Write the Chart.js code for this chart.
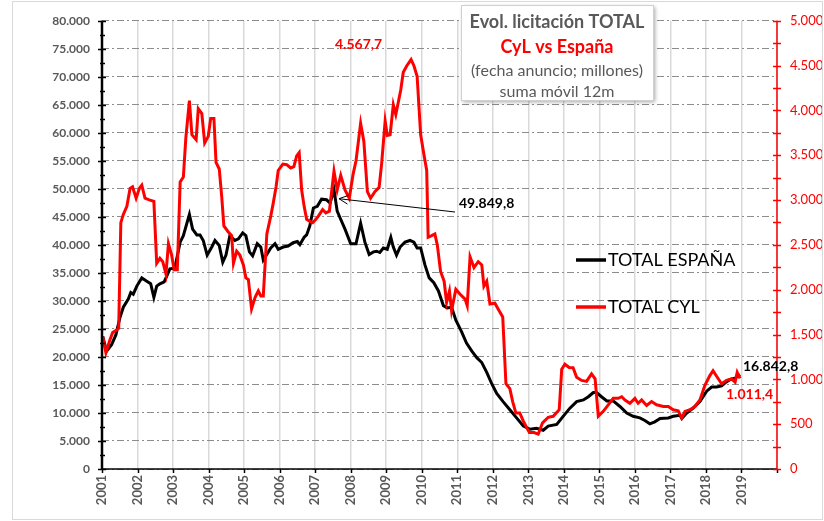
<!DOCTYPE html>
<html>
<head>
<meta charset="utf-8">
<script src="https://cdn.jsdelivr.net/npm/chart.js@4.4.1/dist/chart.umd.min.js"></script>
<style>
html,body{margin:0;padding:0;background:#fff;}
#wrap{position:relative;width:824px;height:521px;}
</style>
</head>
<body>
<div id="wrap"><canvas id="c" width="824" height="521"></canvas></div>
<script>
// ---- Data ----
const espanaX = [2001.02,2001.13,2001.27,2001.39,2001.51,2001.60,2001.74,2001.81,2001.88,2001.98,
2002.12,2002.26,2002.37,2002.46,2002.54,2002.63,2002.75,2002.82,2002.91,2003.05,2003.20,2003.29,
2003.46,2003.55,2003.67,2003.76,2003.85,2003.96,2004.09,2004.18,2004.30,2004.40,2004.49,2004.60,
2004.74,2004.84,2004.96,2005.05,2005.15,2005.24,2005.37,2005.47,2005.54,2005.64,2005.75,2005.87,
2005.96,2006.10,2006.24,2006.38,2006.50,2006.57,2006.69,2006.76,2006.85,2006.95,2007.06,2007.18,
2007.32,2007.42,2007.53,2007.62,2007.70,2007.84,2008.00,2008.15,2008.28,2008.40,2008.52,2008.64,
2008.73,2008.82,2008.92,2009.03,2009.13,2009.20,2009.29,2009.39,2009.53,2009.67,2009.78,2009.87,
2009.97,2010.09,2010.21,2010.34,2010.47,2010.61,2010.72,2010.84,2010.96,2011.12,2011.26,2011.41,
2011.55,2011.69,2011.83,2011.97,2012.11,2012.29,2012.48,2012.67,2012.86,2013.05,2013.23,2013.42,
2013.56,2013.80,2013.98,2014.17,2014.36,2014.55,2014.69,2014.83,2014.92,2015.06,2015.21,2015.39,
2015.58,2015.77,2015.95,2016.14,2016.28,2016.42,2016.56,2016.71,2016.94,2017.08,2017.27,2017.32,
2017.46,2017.64,2017.83,2018.02,2018.16,2018.30,2018.44,2018.54,2018.68,2018.82,2018.96];
const espana = [23650,21040,22190,23930,27140,28880,30330,31500,31200,32650,
34110,33520,33060,30620,32650,33060,33410,34390,35730,35850,40490,41660,
45440,42820,41780,41780,40790,38170,39620,40790,39910,36900,38170,41660,
40790,41080,42130,41660,38750,38050,40210,39620,37300,38290,39450,40210,
39220,39620,39790,40390,40610,40040,41360,41780,43400,46590,46890,48160,
48050,47460,49850,46020,44850,42820,40210,40210,43870,40490,38290,38750,
38870,38640,39450,39220,41360,39620,38170,39620,40490,40790,40490,39450,
39450,36430,34110,33240,31780,29160,28760,28880,26550,24520,22480,21040,
19870,19000,17260,15220,13470,12030,10580,9120,7670,7090,7270,6920,
7670,7970,9400,10860,12030,12320,12900,13650,13650,12900,12150,12150,
11160,9990,9410,9120,8660,8070,8420,9010,9120,9410,9590,9010,
9990,10860,12030,13890,14640,14640,14820,15390,15980,16210,16842.8];

const cylX = [2001.02,2001.11,2001.21,2001.30,2001.41,2001.47,2001.53,2001.60,2001.70,2001.79,2001.86,2001.96,
2002.05,2002.12,2002.21,2002.33,2002.46,2002.54,2002.63,2002.71,2002.80,2002.87,2002.96,2003.03,2003.12,
2003.20,2003.29,2003.36,2003.46,2003.53,2003.65,2003.71,2003.81,2003.89,2003.99,2004.06,2004.15,2004.21,
2004.30,2004.37,2004.43,2004.55,2004.65,2004.70,2004.79,2004.88,2004.98,2005.05,2005.12,2005.21,2005.31,
2005.40,2005.47,2005.54,2005.64,2005.75,2005.82,2005.90,2005.96,2006.09,2006.20,2006.31,2006.40,2006.48,
2006.55,2006.62,2006.69,2006.76,2006.83,2006.93,2007.02,2007.09,2007.21,2007.30,2007.40,2007.53,2007.62,
2007.72,2007.84,2007.96,2008.07,2008.15,2008.28,2008.37,2008.47,2008.56,2008.68,2008.80,2008.87,2008.97,
2009.03,2009.11,2009.20,2009.27,2009.34,2009.41,2009.48,2009.58,2009.70,2009.78,2009.87,2009.97,2010.06,
2010.14,2010.18,2010.28,2010.37,2010.44,2010.53,2010.63,2010.70,2010.78,2010.84,2010.96,2011.08,2011.22,
2011.28,2011.36,2011.47,2011.59,2011.69,2011.75,2011.83,2011.92,2012.06,2012.15,2012.28,2012.37,2012.48,
2012.56,2012.65,2012.76,2012.86,2013.03,2013.16,2013.28,2013.40,2013.56,2013.70,2013.87,2013.94,2014.03,
2014.15,2014.26,2014.36,2014.50,2014.64,2014.78,2014.88,2014.97,2015.11,2015.25,2015.39,2015.53,2015.63,
2015.72,2015.86,2016.00,2016.09,2016.19,2016.33,2016.47,2016.61,2016.80,2016.94,2017.08,2017.22,2017.32,
2017.41,2017.55,2017.69,2017.83,2017.97,2018.11,2018.20,2018.30,2018.44,2018.58,2018.72,2018.82,2018.88,2018.96];
const cyl = [1478,1296,1424,1522,1550,1569,2748,2840,2930,3130,3148,3021,
3130,3167,3021,3003,2985,2295,2350,2313,2175,2513,2386,2222,2222,
3203,3257,3693,4110,3729,3674,4020,3965,3638,3711,3911,3911,3420,
3347,3039,2712,2647,2603,2295,2429,2386,2277,2132,2113,1786,1914,
1986,1931,1931,2622,2821,2966,3148,3330,3402,3395,3358,3373,3493,
3529,3112,2930,2785,2767,2748,2785,2821,2894,2857,2876,3322,3112,
3275,3112,3021,3293,3439,3856,3657,3094,3021,3094,3141,3402,3881,
3722,3729,4063,3954,4092,4230,4426,4499,4567.7,4499,4382,3729,3511,
3330,2585,2603,2622,2494,2204,2095,1859,1986,1768,2004,1950,1895,
1822,2367,2247,2313,2277,2040,2095,1841,1849,1786,1696,951,897,
752,624,624,534,406,406,389,515,577,588,661,1114,1169,
1133,1130,1024,988,977,1060,1005,588,643,716,788,788,806,
770,733,788,733,770,708,752,716,697,697,661,650,570,
643,661,697,770,934,1042,1097,1035,951,988,1005,969,1078,1011.4];

const leftTicks = [0,5000,10000,15000,20000,25000,30000,35000,40000,45000,50000,55000,60000,65000,70000,75000,80000];
const rightTicks = [0,500,1000,1500,2000,2500,3000,3500,4000,4500,5000];
const yearTicks = [2001,2002,2003,2004,2005,2006,2007,2008,2009,2010,2011,2012,2013,2014,2015,2016,2017,2018,2019];
const seriesNames = ['TOTAL ESPAÑA','TOTAL CYL'];
const titleLines = ['Evol. licitación TOTAL','CyL vs España','(fecha anuncio; millones)','suma móvil 12m'];
const notes = {peakCyl:'4.567,7', peakEsp:'49.849,8', lastEsp:'16.842,8', lastCyl:'1.011,4'};

function fmt(v){ return String(v).replace(/\B(?=(\d{3})+(?!\d))/g,'.'); }

const FONT = 'Lato, "Open Sans", "Liberation Sans", sans-serif';
const GRAY = '#595959';
const RED = '#ff0000';

const overlay = {
  id:'overlay',
  afterDraw(chart){
    const ctx = chart.ctx;
    const x = chart.scales.x, y = chart.scales.y, y1 = chart.scales.y1;
    const L = x.left, R = x.right, T = y.top, B = y.bottom;
    ctx.save();
    // outer frame
    ctx.strokeStyle = '#d9d9d9'; ctx.lineWidth = 1;
    ctx.strokeRect(12.5, 1.5, 810, 518);
    // left axis
    ctx.strokeStyle = '#000'; ctx.lineWidth = 2.5;
    ctx.beginPath(); ctx.moveTo(L, T); ctx.lineTo(L, B); ctx.stroke();
    ctx.lineWidth = 1.5;
    for (let v = 0; v <= 80000; v += 2500) {
      const py = Math.round(y.getPixelForValue(v)) + 0.5;
      const major = v % 5000 === 0;
      ctx.beginPath(); ctx.moveTo(L - (major ? 4 : 2), py); ctx.lineTo(L + (major ? 4 : 3), py); ctx.stroke();
    }
    // bottom axis
    ctx.lineWidth = 1.5;
    ctx.beginPath(); ctx.moveTo(L, B); ctx.lineTo(R, B); ctx.stroke();
    for (let yr = 2001; yr <= 2020; yr++) {
      const px = Math.round(x.getPixelForValue(yr)) + 0.5;
      ctx.beginPath(); ctx.moveTo(px, B); ctx.lineTo(px, B + 4); ctx.stroke();
    }
    // right axis
    ctx.strokeStyle = RED; ctx.lineWidth = 1.5;
    ctx.beginPath(); ctx.moveTo(R, T); ctx.lineTo(R, B); ctx.stroke();
    for (let v = 0; v <= 5000; v += 250) {
      const py = Math.round(y1.getPixelForValue(v)) + 0.5;
      ctx.beginPath(); ctx.moveTo(R - 4, py); ctx.lineTo(R + 4, py); ctx.stroke();
    }
    // annotations
    ctx.textBaseline = 'middle';
    ctx.font = 'bold 14px ' + FONT;
    ctx.fillStyle = RED; ctx.textAlign = 'left';
    ctx.fillText(notes.peakCyl, 335, 44);
    ctx.fillStyle = '#000';
    ctx.fillText(notes.peakEsp, 459, 203);
    ctx.fillText(notes.lastEsp, 743, 366);
    ctx.fillStyle = RED;
    ctx.fillText(notes.lastCyl, 726, 394);
    // arrow
    const ax = x.getPixelForValue(2007.53) + 5, ay = y.getPixelForValue(49850) + 9;
    ctx.strokeStyle = '#000'; ctx.lineWidth = 1;
    ctx.beginPath(); ctx.moveTo(455, 212); ctx.lineTo(ax, ay); ctx.stroke();
    const ang = Math.atan2(212 - ay, 455 - ax);
    ctx.beginPath();
    ctx.moveTo(ax + 10*Math.cos(ang - 0.45), ay + 10*Math.sin(ang - 0.45));
    ctx.lineTo(ax, ay);
    ctx.lineTo(ax + 10*Math.cos(ang + 0.45), ay + 10*Math.sin(ang + 0.45));
    ctx.stroke();
    // legend
    ctx.lineWidth = 3.5;
    ctx.strokeStyle = '#000';
    ctx.beginPath(); ctx.moveTo(576, 260); ctx.lineTo(606, 260); ctx.stroke();
    ctx.strokeStyle = RED;
    ctx.beginPath(); ctx.moveTo(576, 307); ctx.lineTo(606, 307); ctx.stroke();
    ctx.font = '18px ' + FONT;
    ctx.fillStyle = '#000';
    ctx.fillText(seriesNames[0], 608, 260);
    ctx.fillText(seriesNames[1], 608, 307);
    // title box
    ctx.shadowColor = 'rgba(0,0,0,0.35)'; ctx.shadowBlur = 4; ctx.shadowOffsetX = 2; ctx.shadowOffsetY = 2;
    ctx.fillStyle = '#fff';
    ctx.fillRect(461, 5, 192, 95);
    ctx.shadowColor = 'transparent';
    ctx.strokeStyle = '#d0d0d0'; ctx.lineWidth = 1;
    ctx.strokeRect(461.5, 5.5, 192, 95);
    ctx.textAlign = 'center';
    ctx.font = 'bold 18px ' + FONT; ctx.fillStyle = GRAY;
    ctx.fillText(titleLines[0], 557, 22);
    ctx.fillStyle = RED;
    ctx.fillText(titleLines[1], 557, 47);
    ctx.font = '16px ' + FONT; ctx.fillStyle = GRAY;
    ctx.fillText(titleLines[2], 557, 71);
    ctx.fillText(titleLines[3], 557, 92);
    ctx.restore();
  }
};

new Chart(document.getElementById('c'), {
  type: 'line',
  data: {
    datasets: [
      { label: seriesNames[1], data: cylX.map((v,i)=>({x:v, y:cyl[i]})), yAxisID:'y1',
        borderColor: RED, borderWidth: 3, pointRadius: 0, tension: 0, fill:false },
      { label: seriesNames[0], data: espanaX.map((v,i)=>({x:v, y:espana[i]})), yAxisID:'y',
        borderColor: '#000', borderWidth: 3, pointRadius: 0, tension: 0, fill:false }
    ]
  },
  options: {
    responsive: false, animation: false, devicePixelRatio: 1,
    layout: { padding: { top: 10, left: 0, right: 0, bottom: 0 } },
    plugins: { legend: { display: false }, tooltip: { enabled: false } },
    scales: {
      x: {
        type: 'linear', min: 2001, max: 2020,
        afterBuildTicks: s => { s.ticks = yearTicks.concat([2020]).map(v => ({value: v})); },
        afterFit: s => { s.height = 52; },
        ticks: { autoSkip: false, minRotation: 90, maxRotation: 90, padding: 6,
          color: GRAY, font: { family: FONT, size: 13, weight: 'bold' },
          callback: v => yearTicks.includes(v) ? String(v) : '' },
        grid: { color: '#d9d9d9', lineWidth: 1.5, drawTicks: false },
        border: { display: false }
      },
      y: {
        position: 'left', min: 0, max: 80000,
        afterBuildTicks: s => { s.ticks = leftTicks.map(v => ({value: v})); },
        afterFit: s => { s.width = 102; },
        ticks: { padding: 12, color: GRAY, font: { family: FONT, size: 12, weight: 'bold' },
          callback: v => fmt(v) },
        grid: { color: '#8c8c8c', lineWidth: 1, drawTicks: false },
        border: { display: false, dash: [7,3,2,3] }
      },
      y1: {
        position: 'right', min: 0, max: 5000,
        afterBuildTicks: s => { s.ticks = rightTicks.map(v => ({value: v})); },
        afterFit: s => { s.width = 47; },
        ticks: { padding: 13, color: RED, font: { family: FONT, size: 13 },
          callback: v => fmt(v) },
        grid: { display: false, drawTicks: false },
        border: { display: false }
      }
    }
  },
  plugins: [overlay]
});
</script>
</body>
</html>
